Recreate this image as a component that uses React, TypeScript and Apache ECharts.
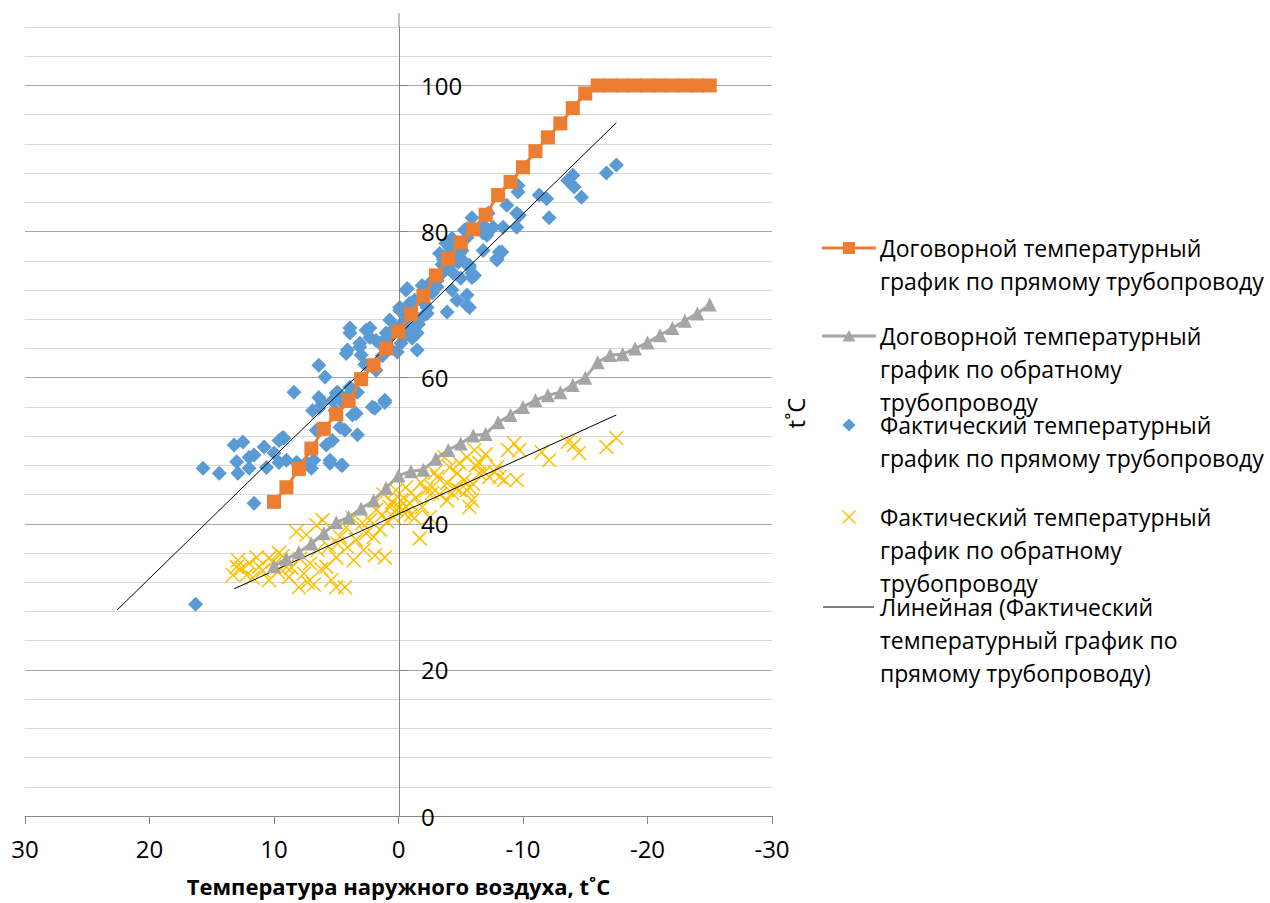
import React, { useEffect, useRef } from "react";
import * as echarts from "echarts";

// Outdoor temperature steps of the contract schedule, °C
const contractT = [10, 9, 8, 7, 6, 5, 4, 3, 2, 1, 0, -1, -2, -3, -4, -5, -6, -7, -8, -9, -10, -11, -12, -13, -14, -15, -16, -17, -18, -19, -20, -21, -22, -23, -24, -25];
// Contract supply temperature
const contractSupply = [43, 45, 47.5, 50.3, 53.0, 55.0, 56.8, 59.8, 61.7, 64.0, 66.3, 68.7, 71.2, 74.0, 76.3, 78.5, 80.3, 82.3, 85.0, 86.8, 88.8, 91.0, 92.9, 94.8, 96.9, 98.9, 100, 100, 100, 100, 100, 100, 100, 100, 100, 100];
// Contract return temperature
const contractReturn = [34.2, 35.2, 36.1, 37.3, 38.7, 40.2, 40.9, 42.1, 43.2, 44.9, 46.6, 47.2, 47.4, 48.9, 50.1, 51.0, 52.1, 52.3, 53.9, 54.9, 56.0, 56.9, 57.6, 58.0, 59.0, 60.0, 62.1, 63.1, 63.2, 64.0, 64.8, 65.8, 66.8, 67.8, 68.8, 70.0];

// Actual supply temperature [outdoor t, supply t]
const factSupply: [number, number][] = [
  [15.7, 47.6], [14.4, 46.9], [16.3, 29.0], [13.2, 50.8], [12.5, 51.2], [13.0, 48.5], [12.9, 46.9], [12.0, 47.6], [11.6, 42.8], [12.0, 49.1],
  [11.6, 49.4], [10.8, 50.5], [10.6, 47.7], [10.0, 49.7], [9.6, 51.4], [9.3, 51.8], [9.2, 51.7], [9.6, 48.4], [9.0, 48.7], [8.4, 58.0],
  [8.2, 48.4], [8.1, 48.3], [8.0, 47.7], [7.4, 48.4], [7.0, 47.6], [6.8, 48.7], [6.9, 55.5], [6.6, 52.8], [6.4, 61.7], [6.4, 55.8],
  [5.9, 60.1], [6.4, 57.3], [6.1, 56.6], [5.8, 50.8], [5.5, 48.7], [5.5, 48.3], [5.3, 51.4], [5.3, 56.9], [5.0, 57.9], [4.9, 58.0],
  [5.1, 55.5], [4.7, 53.2], [4.6, 48.0], [4.5, 48.0], [4.5, 56.6], [4.3, 52.8], [4.2, 57.3], [4.2, 63.3], [4.1, 63.8], [3.9, 66.8],
  [3.9, 66.1], [3.9, 58.7], [3.7, 54.9], [3.4, 55.1], [3.3, 52.2], [3.3, 58.0], [3.1, 64.2], [3.1, 64.7], [3.0, 63.1], [2.7, 61.8],
  [2.6, 66.5], [2.3, 65.5], [2.3, 66.8], [2.1, 56.0], [1.9, 55.8], [1.8, 61.0], [1.8, 65.1], [1.5, 64.7], [1.1, 56.6], [1.1, 56.9],
  [1.0, 65.4], [1.0, 66.1], [0.7, 67.9], [0.5, 65.9], [-0.1, 69.6], [-0.1, 69.2], [-0.2, 64.7], [-0.6, 65.8], [-0.6, 68.8], [-0.6, 72.0],
  [-0.7, 72.2], [-0.9, 66.9], [-1.1, 65.4], [-1.1, 68.8], [-1.5, 63.8], [-1.5, 66.1], [-1.9, 72.6], [-1.9, 68.3], [-2.3, 68.8], [-2.3, 69.6],
  [-2.5, 72.9], [-2.7, 71.6], [-3.1, 73.3], [-3.1, 72.4], [-3.5, 74.3], [-3.9, 69.0], [-4.1, 77.2], [-4.1, 77.8], [-4.3, 79.1], [-4.3, 72.0],
  [-4.3, 75.7], [-4.7, 70.6], [-4.7, 76.5], [-4.9, 77.0], [-5.1, 77.4], [-5.3, 80.2], [-5.5, 71.3], [-5.5, 80.4], [-5.5, 79.2], [-5.5, 69.9],
  [-5.7, 75.4], [-5.7, 75.1], [-5.7, 69.6], [-5.9, 73.7], [-5.9, 81.9], [-5.9, 74.3], [-6.1, 74.0], [-6.5, 80.6], [-6.8, 80.9], [-6.8, 79.8],
  [-6.8, 77.4], [-6.8, 80.2], [-7.1, 79.5], [-7.2, 82.5], [-7.6, 80.6], [-7.9, 76.3], [-7.9, 76.1], [-8.1, 77.2], [-8.3, 77.2], [-8.4, 80.6],
  [-8.7, 83.6], [-9.5, 82.5], [-9.5, 80.6], [-9.6, 85.4], [-9.6, 86.3], [-9.7, 82.2], [-11.3, 85.0], [-11.9, 84.5], [-12.1, 81.9], [-13.6, 87.0],
  [-14.0, 87.7], [-14.1, 86.1], [-14.7, 84.7], [-16.7, 88.0], [-17.5, 89.1],
  [-3.3, 77.0], [-3.6, 76.2], [-4.0, 75.0], [-4.4, 74.3], [-3.8, 78.4], [-4.8, 75.8], [-5.0, 73.6], [-3.5, 75.5], [-4.6, 78.2], [-5.2, 76.0],
  [0.8, 64.2], [0.3, 66.8], [-0.3, 67.5], [-0.9, 70.2], [-1.3, 70.6], [-1.6, 67.3], [-2.0, 70.3], [0.1, 63.5], [-0.4, 66.2], [1.3, 63.0],
];

// Actual return temperature [outdoor t, return t]
const factReturn: [number, number][] = [
  [13.0, 34.1], [13.3, 33.0], [12.6, 33.9], [12.9, 35.0], [11.4, 35.4], [11.2, 34.1], [11.7, 32.6], [10.4, 35.3], [10.4, 32.3], [9.6, 36.0],
  [9.0, 34.1], [9.7, 33.4], [8.8, 32.7], [8.0, 31.3], [8.2, 38.9], [7.6, 33.2], [7.1, 34.6], [6.5, 36.4], [6.1, 40.5], [5.8, 34.1],
  [5.4, 32.3], [5.0, 31.3], [4.3, 31.3], [5.0, 35.4], [4.7, 38.2], [4.2, 39.5], [4.1, 36.8], [3.4, 37.8], [3.7, 40.8], [2.9, 40.1],
  [2.3, 40.5], [2.6, 38.7], [1.9, 35.7], [1.1, 35.4], [1.8, 41.9], [1.3, 41.2], [0.7, 42.3], [0.2, 41.9], [0.5, 43.0], [-0.2, 43.2],
  [-0.6, 42.3], [-1.0, 41.2], [-1.7, 38.0], [-1.4, 43.6], [-2.2, 44.6], [-2.7, 45.0], [-1.9, 42.3], [-2.5, 40.9], [-0.6, 45.0], [-0.9, 42.8],
  [-3.1, 46.4], [-3.9, 45.6], [-4.1, 47.7], [-3.7, 49.1], [-4.7, 46.9], [-4.9, 48.3], [-5.3, 46.0], [-5.5, 44.6], [-5.9, 43.2], [-5.7, 42.3],
  [-6.1, 50.1], [-5.5, 49.1], [-6.5, 48.3], [-6.9, 47.1], [-7.3, 46.4], [-7.7, 47.1], [-8.1, 46.4], [-8.5, 46.0], [-9.5, 46.0], [-8.8, 50.1],
  [-9.3, 51.0], [-9.7, 50.1], [-11.5, 49.8], [-12.1, 48.7], [-13.6, 51.2], [-14.1, 50.8], [-14.5, 49.7], [-16.7, 50.5], [-17.5, 51.7], [-0.1, 42.3],
  [-0.5, 41.4], [-1.3, 40.8], [-2.7, 44.2], [-3.9, 43.2], [-4.3, 44.2], [-4.9, 44.6], [-5.7, 45.0], [-6.5, 46.9], [-7.9, 47.7], [12.2, 33.0],
  [12.0, 34.6], [10.9, 33.6], [10.1, 34.8], [9.3, 35.6], [8.6, 34.0], [7.9, 35.2], [7.3, 32.0], [6.8, 31.7], [6.2, 33.8], [5.6, 36.9],
  [4.9, 37.3], [3.6, 35.0], [2.8, 36.4], [2.0, 38.2], [1.5, 39.2], [0.9, 40.3], [0.4, 40.9], [1.2, 44.0], [0.2, 44.6], [-1.0, 44.2],
  [-1.8, 45.6], [-2.9, 47.0], [-3.3, 44.0], [-4.5, 45.0], [-6.0, 45.4], [-6.2, 48.0], [-7.0, 49.5], [6.6, 39.8], [7.4, 38.5],
];

// Linear trend endpoints
const trendSupply: [number, number][] = [[22.6, 28.2], [-17.5, 94.9]];
const trendReturn: [number, number][] = [[13.2, 31.1], [-17.5, 54.9]];

const yLabelValues = [0, 20, 40, 60, 80, 100];

const legendNames = [
  "Договорной температурный\nграфик по прямому трубопроводу",
  "Договорной температурный\nграфик по обратному\nтрубопроводу",
  "Фактический температурный\nграфик по прямому трубопроводу",
  "Фактический температурный\nграфик по обратному\nтрубопроводу",
  "Линейная (Фактический\nтемпературный график по\nпрямому трубопроводу)",
];
const xAxisTitle = "Температура наружного воздуха, t˚C";
const yAxisTitle = "t˚C";

const ORANGE = "#ED7D31";
const GRAY = "#A5A5A5";
const BLUE = "#5B9BD5";
const YELLOW = "#FFC000";
const FONT = '"Open Sans", "Noto Sans", sans-serif';

export default function App() {
  const ref = useRef<HTMLDivElement>(null);

  useEffect(() => {
    if (!ref.current) return;
    const chart = echarts.init(ref.current, undefined, { renderer: "svg" });

    const legendY = [248, 336, 425, 517, 607];
    const lx = 849;
    const textX = 880;
    const legendGraphics: any[] = [];
    legendGraphics.push({ type: "line", shape: { x1: 822, y1: legendY[0], x2: 876, y2: legendY[0] }, style: { stroke: ORANGE, lineWidth: 3 } });
    legendGraphics.push({ type: "rect", shape: { x: lx - 6, y: legendY[0] - 6, width: 12, height: 12 }, style: { fill: ORANGE } });
    legendGraphics.push({ type: "line", shape: { x1: 822, y1: legendY[1], x2: 876, y2: legendY[1] }, style: { stroke: GRAY, lineWidth: 3 } });
    legendGraphics.push({ type: "polygon", shape: { points: [[lx, legendY[1] - 6], [lx + 6.5, legendY[1] + 5.5], [lx - 6.5, legendY[1] + 5.5]] }, style: { fill: GRAY } });
    legendGraphics.push({ type: "polygon", shape: { points: [[lx, legendY[2] - 6.5], [lx + 6.5, legendY[2]], [lx, legendY[2] + 6.5], [lx - 6.5, legendY[2]]] }, style: { fill: BLUE } });
    legendGraphics.push({ type: "line", shape: { x1: lx - 6.5, y1: legendY[3] - 6.5, x2: lx + 6.5, y2: legendY[3] + 6.5 }, style: { stroke: YELLOW, lineWidth: 1.5 } });
    legendGraphics.push({ type: "line", shape: { x1: lx + 6.5, y1: legendY[3] - 6.5, x2: lx - 6.5, y2: legendY[3] + 6.5 }, style: { stroke: YELLOW, lineWidth: 1.5 } });
    legendGraphics.push({ type: "line", shape: { x1: 823, y1: legendY[4], x2: 874, y2: legendY[4] }, style: { stroke: "#000", lineWidth: 1 } });
    legendNames.forEach((name, i) => {
      legendGraphics.push({
        type: "text",
        x: textX,
        y: legendY[i] - 16.5,
        style: { text: name, fontSize: 23, fontFamily: FONT, fill: "#000", lineHeight: 33, align: "left", verticalAlign: "top" },
      });
    });

    chart.setOption({
      animation: false,
      backgroundColor: "#fff",
      grid: { left: 25, right: 498, top: 27, bottom: 87, containLabel: false },
      xAxis: {
        type: "value",
        min: -30,
        max: 30,
        interval: 10,
        inverse: true,
        axisLine: { show: true, onZero: true, lineStyle: { color: "#868686", width: 1 } },
        axisTick: { show: true, length: 8, lineStyle: { color: "#868686" } },
        axisLabel: { fontSize: 24, fontFamily: FONT, color: "#000", margin: 20 },
        splitLine: { show: false },
        name: xAxisTitle,
        nameLocation: "middle",
        nameGap: 59,
        nameTextStyle: { fontSize: 22, fontWeight: "bold", fontFamily: FONT, color: "#000" },
      },
      yAxis: [
        {
          type: "value",
          min: 0,
          max: 108,
          interval: 4,
          position: "left",
          offset: -374,
          axisLine: { show: true, onZero: false, lineStyle: { color: "#868686", width: 1 } },
          axisTick: { show: true, inside: true, length: 9, customValues: yLabelValues, lineStyle: { color: "#868686" } },
          axisLabel: { inside: true, margin: 22, fontSize: 24, fontFamily: FONT, color: "#000", customValues: yLabelValues },
          splitLine: { show: false },
          z: 3,
        },
        {
          type: "value",
          min: 0,
          max: 108,
          interval: 4,
          position: "right",
          axisLine: { show: false },
          axisTick: { show: false },
          axisLabel: { show: false },
          splitLine: {
            show: true,
            lineStyle: { color: ["#a6a6a6", "#d9d9d9", "#d9d9d9", "#d9d9d9", "#d9d9d9"], width: 1 },
          },
        },
      ],
      graphic: [
        { type: "line", shape: { x1: 399, y1: 13, x2: 399, y2: 27 }, style: { stroke: "#868686", lineWidth: 1 } },
        {
          type: "text",
          x: 795,
          y: 413,
          rotation: Math.PI / 2,
          style: { text: yAxisTitle, fontSize: 24, fontFamily: FONT, fill: "#000", align: "center", verticalAlign: "middle" },
        },
        ...legendGraphics,
      ],
      series: [
        {
          name: legendNames[0],
          type: "line",
          data: contractT.map((t, i) => [t, contractSupply[i]]),
          symbol: "rect",
          symbolSize: 14,
          lineStyle: { color: ORANGE, width: 3 },
          itemStyle: { color: ORANGE },
        },
        {
          name: legendNames[1],
          type: "line",
          data: contractT.map((t, i) => [t, contractReturn[i]]),
          symbol: "triangle",
          symbolSize: 14,
          lineStyle: { color: GRAY, width: 3 },
          itemStyle: { color: GRAY },
        },
        {
          name: legendNames[2],
          type: "scatter",
          data: factSupply,
          symbol: "diamond",
          symbolSize: 15,
          itemStyle: { color: BLUE, opacity: 1 },
        },
        {
          name: legendNames[3],
          type: "scatter",
          data: factReturn,
          symbol: "path://M0,0L10,10M10,0L0,10",
          symbolSize: 14,
          itemStyle: { color: "transparent", borderColor: YELLOW, borderWidth: 1.5, opacity: 1 },
        },
        {
          name: legendNames[4],
          type: "line",
          data: trendSupply,
          showSymbol: false,
          symbol: "none",
          lineStyle: { color: "#000", width: 1 },
        },
        {
          name: "trend-return",
          type: "line",
          data: trendReturn,
          showSymbol: false,
          symbol: "none",
          lineStyle: { color: "#000", width: 1 },
        },
      ],
    });

    return () => chart.dispose();
  }, []);

  return (
    <div
      ref={ref}
      style={{ position: "absolute", left: 0, top: 0, width: 1270, height: 903, background: "#fff" }}
    />
  );
}
